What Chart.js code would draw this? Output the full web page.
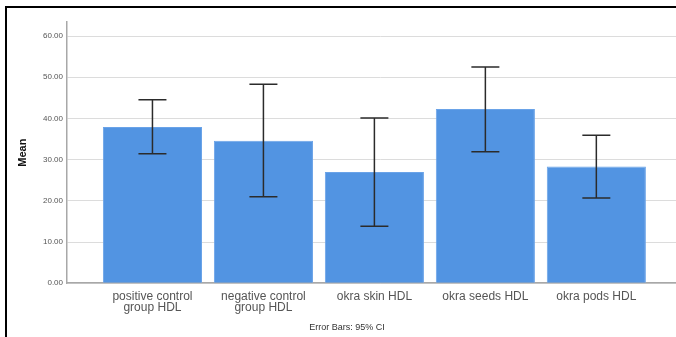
<!DOCTYPE html>
<html>
<head>
<meta charset="utf-8">
<script src="https://cdn.jsdelivr.net/npm/chart.js@4/dist/chart.umd.min.js"></script>
<style>
  html, body { margin: 0; padding: 0; background: #fff; overflow: hidden; }
  #wrap { position: relative; width: 676px; height: 337px; overflow: hidden; }
  #meanChart { position: absolute; left: 0; top: 0; }
  #frame { position: absolute; left: 5px; top: 6px; width: 680px; height: 340px; border-top: 2px solid #000; border-left: 2px solid #000; pointer-events: none; }
</style>
</head>
<body>
<div id="wrap">
  <canvas id="meanChart" width="694" height="337"></canvas>
  <div id="frame"></div>
</div>
<script>
// categories, bar means and 95% CI bounds
const groups = [
    ['positive control', 'group HDL'],
    ['negative control', 'group HDL'],
    'okra skin HDL',
    'okra seeds HDL',
    'okra pods HDL'
];
const means = [37.9, 34.6, 27.0, 42.3, 28.3];
const ciHigh = [44.5, 48.3, 40.1, 52.5, 35.9];
const ciLow = [31.4, 21.0, 13.8, 31.9, 20.7];
const yTicks = [0, 10, 20, 30, 40, 50, 60];

// draw the error bars from the y scale
const errorBars = {
    id: 'errorBars',
    afterDatasetsDraw(chart) {
        const ctx = chart.ctx;
        const y = chart.scales.y;
        const meta = chart.getDatasetMeta(0);
        ctx.save();
        ctx.strokeStyle = '#2b2b2b';
        ctx.lineWidth = 1.5;
        meta.data.forEach(function(bar, i) {
            const top = y.getPixelForValue(ciHigh[i]);
            const bottom = y.getPixelForValue(ciLow[i]);
            const half = 14;
            ctx.beginPath();
            ctx.moveTo(bar.x, top);
            ctx.lineTo(bar.x, bottom);
            ctx.moveTo(bar.x - half, top);
            ctx.lineTo(bar.x + half, top);
            ctx.moveTo(bar.x - half, bottom);
            ctx.lineTo(bar.x + half, bottom);
            ctx.stroke();
        });
        ctx.restore();
    }
};

const ctx = document.getElementById('meanChart').getContext('2d');
const meanChart = new Chart(ctx, {
    type: 'bar',
    data: {
        datasets: [{
            data: means.map(function(v, i) { return {x: i, y: v}; }),
            backgroundColor: '#5294e2',
            borderColor: '#6aa3e8',
            borderWidth: 1,
            barPercentage: 0.893,
            categoryPercentage: 1
        }]
    },
    options: {
        responsive: false,
        animation: false,
        layout: { padding: { top: 22, right: 0, bottom: 1, left: 0 } },
        plugins: {
            legend: { display: false },
            tooltip: { enabled: false },
            title: {
                display: true,
                position: 'bottom',
                text: 'Error Bars: 95% CI',
                color: '#333',
                font: { family: 'Liberation Sans', size: 9, weight: 'normal', lineHeight: 1.2 },
                padding: { top: 2, bottom: 3 }
            }
        },
        scales: {
            x: {
                type: 'linear',
                offset: false,
                min: -0.77,
                max: 4.88,
                grid: { display: false, drawTicks: false },
                border: { color: '#a8a8a8', width: 1.5 },
                afterBuildTicks: function(scale) {
                    scale.ticks = groups.map(function(g, i) { return {value: i}; });
                },
                afterFit: function(scale) { scale.height = 37; },
                ticks: {
                    autoSkip: false,
                    maxRotation: 0,
                    padding: 8,
                    color: '#555',
                    font: { family: 'Liberation Sans', size: 12, lineHeight: 0.92 },
                    callback: function(v) { return groups[v]; }
                }
            },
            y: {
                min: 0,
                max: 63.4,
                grid: { color: '#dcdcdc', lineWidth: 1, drawTicks: false },
                border: { color: '#a8a8a8', width: 1.5 },
                afterBuildTicks: function(scale) {
                    scale.ticks = yTicks.map(function(v) { return {value: v}; });
                },
                afterFit: function(scale) { scale.width = 67; },
                ticks: {
                    padding: 4,
                    color: '#555',
                    font: { family: 'Liberation Sans', size: 8 },
                    callback: function(v) { return v.toFixed(2); }
                },
                title: {
                    display: true,
                    text: 'Mean',
                    color: '#111',
                    font: { family: 'Liberation Sans', size: 11, weight: 'bold', lineHeight: 1.2 },
                    padding: { top: 16, bottom: 0 }
                }
            }
        }
    },
    plugins: [errorBars]
});
</script>
</body>
</html>
